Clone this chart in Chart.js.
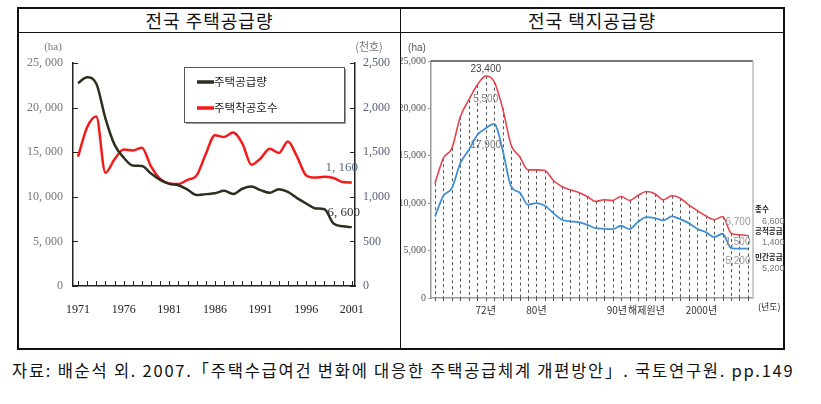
<!DOCTYPE html>
<html><head><meta charset="utf-8">
<script src="https://cdn.jsdelivr.net/npm/chart.js@4"></script>
<style>
html,body{margin:0;padding:0;background:#fff;width:821px;height:404px;overflow:hidden;}
.ln{position:absolute;background:#111;}
.title{position:absolute;top:8px;height:24px;line-height:24px;text-align:center;font-family:"Noto Sans CJK KR","Noto Sans",sans-serif;font-size:18px;color:#111;letter-spacing:1px;}
#cap{position:absolute;left:12px;top:358px;font-family:"Noto Sans CJK KR",sans-serif;font-size:16.5px;letter-spacing:1.75px;color:#111;white-space:nowrap;}
canvas{position:absolute;}
</style></head>
<body>
<div class="ln" style="left:17px;top:7px;width:768px;height:2px"></div>
<div class="ln" style="left:17px;top:32px;width:768px;height:1px"></div>
<div class="ln" style="left:17px;top:7px;width:2px;height:343px"></div>
<div class="ln" style="left:783px;top:7px;width:2px;height:343px"></div>
<div class="ln" style="left:400px;top:7px;width:1px;height:343px"></div>
<div class="ln" style="left:17px;top:348px;width:768px;height:2px"></div>
<div class="title" style="left:19px;width:381px">전국 주택공급량</div>
<div class="title" style="left:401px;width:382px">전국 택지공급량</div>
<canvas id="c1" width="382" height="315" style="left:18px;top:33px"></canvas>
<canvas id="c2" width="400" height="315" style="left:401px;top:33px"></canvas>
<div id="cap">자료: 배순석 외. 2007.「주택수급여건 변화에 대응한 주택공급체계 개편방안」. 국토연구원. pp.149</div>
<script>
// ---------- Left chart data ----------
const years = [1971,1972,1973,1974,1975,1976,1977,1978,1979,1980,1981,1982,1983,1984,1985,1986,1987,1988,1989,1990,1991,1992,1993,1994,1995,1996,1997,1998,1999,2000,2001];
const supplyHa = [22750,23400,22700,18800,15850,14400,13500,13450,12600,11900,11450,11300,10800,10200,10300,10400,10680,10310,10900,11150,10750,10450,10850,10550,9850,9250,8700,8600,7000,6700,6600];
const startsK = [1450,1780,1900,1270,1420,1530,1520,1550,1340,1200,1150,1143,1190,1240,1480,1690,1670,1720,1600,1360,1430,1540,1490,1620,1450,1240,1215,1225,1210,1165,1160];
const labelYears = [1971,1976,1981,1986,1991,1996,2001];
const leftSeriesNames = ['주택공급량','주택착공호수'];
const leftUnitL = '(ha)', leftUnitR = '(천호)';
const leftEndLabels = ['6, 600','1, 160'];

// ---------- Right chart data ----------
const landIdx = Array.from({length:38},(_,i)=>i);
const totalHa = [12110,14750,15800,19130,20890,22470,23400,22820,20010,16150,14920,13520,13520,13450,12390,11760,11410,11130,10710,10180,10360,10290,10710,10290,10810,11240,10990,10360,10780,10530,9830,9230,8670,8250,8600,6850,6670,6600];
const privateHa = [8600,10780,11590,14220,15620,17200,17900,18360,15620,11760,11130,9830,10010,9730,8950,8250,8080,8010,7720,7370,7300,7270,7620,7270,8010,8530,8430,8180,8600,8320,7900,7300,6950,6430,6780,5270,5200,5200];
const rightTickPos = [6,12,21.5,25,31.5];
const rightTickLabels = ['72년','80년','90년','해제원년','2000년'];
const peakLabels = ['23,400','5,500','17,900'];
const endLabels = ['6,700','1,500','5,200'];
const sideLabels = ['총수','6,600','공적공급','1,400','민간공급','5,200'];

// ---------- Left chart ----------
const leftPlugin = {
  id:'leftDeco',
  afterDraw(chart){
    const {ctx, chartArea:a, scales} = chart;
    ctx.save();
    ctx.strokeStyle='#222'; ctx.lineWidth=1;
    scales.x.ticks.forEach(t=>{const px=Math.round(scales.x.getPixelForValue(t.value))+0.5;
      ctx.beginPath();ctx.moveTo(px,a.bottom);ctx.lineTo(px,a.bottom-5);ctx.stroke();});
    scales.yL.ticks.forEach(t=>{const py=Math.round(scales.yL.getPixelForValue(t.value))+0.5;
      ctx.beginPath();ctx.moveTo(a.left,py);ctx.lineTo(a.left+5,py);ctx.stroke();});
    scales.yR.ticks.forEach(t=>{const py=Math.round(scales.yR.getPixelForValue(t.value))+0.5;
      ctx.beginPath();ctx.moveTo(a.right,py);ctx.lineTo(a.right-5,py);ctx.stroke();});
    ctx.font='11px "Liberation Serif"'; ctx.fillStyle='#777'; ctx.textAlign='center'; ctx.textBaseline='middle';
    ctx.fillText(leftUnitL, a.left-20, a.top-16);
    ctx.font='11px "Noto Sans CJK KR"';
    ctx.fillText(leftUnitR, a.right+14, a.top-16);
    const bx=a.left+111, by=a.top+4, bw=160, bh=55;
    ctx.fillStyle='#9a9a9a'; ctx.fillRect(bx+2,by+2,bw,bh);
    ctx.fillStyle='#fff'; ctx.fillRect(bx,by,bw,bh);
    ctx.strokeStyle='#555'; ctx.lineWidth=1; ctx.strokeRect(bx+0.5,by+0.5,bw,bh);
    chart.data.datasets.forEach((ds,i)=>{
      const ly = by + 15 + i*26;
      ctx.strokeStyle=ds.borderColor; ctx.lineWidth=3.5;
      ctx.beginPath();ctx.moveTo(bx+13,ly);ctx.lineTo(bx+30,ly);ctx.stroke();
      ctx.fillStyle='#222'; ctx.font='11.5px "Noto Sans CJK KR"'; ctx.textAlign='left'; ctx.textBaseline='middle';
      ctx.fillText(ds.label,bx+30,ly);
    });
    ctx.font='13px "Liberation Serif"'; ctx.textAlign='center'; ctx.textBaseline='middle';
    const mB = chart.getDatasetMeta(0).data, mR = chart.getDatasetMeta(1).data;
    const pB = mB[mB.length-1], pR = mR[mR.length-1];
    ctx.fillStyle='#333'; ctx.fillText(leftEndLabels[0], pB.x-8, pB.y-15);
    ctx.fillStyle='#5a6a84'; ctx.fillText(leftEndLabels[1], pR.x-10, pR.y-15);
    ctx.restore();
  }
};
new Chart(document.getElementById('c1'),{
  type:'line',
  data:{datasets:[
    {label:leftSeriesNames[0],data:years.map((y,i)=>({x:y,y:supplyHa[i]})),yAxisID:'yL',borderColor:'#2c2f20',borderWidth:2.5,pointRadius:0,cubicInterpolationMode:'monotone'},
    {label:leftSeriesNames[1],data:years.map((y,i)=>({x:y,y:startsK[i]})),yAxisID:'yR',borderColor:'#f51a1a',borderWidth:2.5,pointRadius:0,cubicInterpolationMode:'monotone'}
  ]},
  options:{
    responsive:false,animation:false,devicePixelRatio:1,
    layout:{padding:{top:30}},
    plugins:{legend:{display:false},tooltip:{enabled:false}},
    scales:{
      x:{type:'linear',min:1970.45,max:2001.35,
        afterBuildTicks:s=>{s.ticks=years.map(v=>({value:v}));},
        ticks:{autoSkip:false,maxRotation:0,padding:17,color:'#222',font:{family:'Liberation Serif',size:12},
          callback:v=>labelYears.includes(v)?String(v):''},
        grid:{display:false,drawTicks:false},border:{display:true,color:'#222',width:1.5},
        afterFit:s=>{s.height=62;}},
      yL:{position:'left',min:0,max:25000,
        ticks:{stepSize:5000,padding:10,color:'#777',font:{family:'Liberation Serif',size:12},
          callback:v=>v.toLocaleString('en-US').replace(',',', ')},
        grid:{display:false,drawTicks:false},border:{display:true,color:'#222',width:1.5},
        afterFit:s=>{s.width=55;}},
      yR:{position:'right',min:0,max:2500,
        ticks:{stepSize:500,padding:8,color:'#5a6078',font:{family:'Liberation Serif',size:12},
          callback:v=>v.toLocaleString('en-US')},
        grid:{display:false,drawTicks:false},border:{display:true,color:'#222',width:1.5},
        afterFit:s=>{s.width=45;}}
    }
  },
  plugins:[leftPlugin]
});

// ---------- Right chart ----------
const rightPlugin = {
  id:'rightDeco',
  beforeDatasetsDraw(chart){
    const {ctx, chartArea:a} = chart;
    const pts = chart.getDatasetMeta(0).data;
    ctx.save();
    ctx.strokeStyle='#555'; ctx.lineWidth=1;
    pts.forEach(p=>{const px=Math.round(p.x)+0.5;
      ctx.setLineDash([3,3]); ctx.beginPath(); ctx.moveTo(px,p.y); ctx.lineTo(px,a.bottom); ctx.stroke();
      ctx.setLineDash([]); ctx.beginPath(); ctx.moveTo(px,a.bottom); ctx.lineTo(px,a.bottom+3); ctx.stroke();});
    ctx.restore();
  },
  afterDraw(chart){
    const {ctx, chartArea:a} = chart;
    ctx.save();
    ctx.strokeStyle='#777'; ctx.lineWidth=2;
    ctx.beginPath(); ctx.moveTo(a.left,a.top); ctx.lineTo(a.right,a.top); ctx.stroke();
    ctx.strokeStyle='#bbb'; ctx.lineWidth=1.5;
    ctx.beginPath(); ctx.moveTo(a.right,a.top); ctx.lineTo(a.right,a.bottom); ctx.stroke();
    ctx.font='10px "Liberation Sans Narrow","Liberation Sans"'; ctx.textAlign='center'; ctx.textBaseline='middle';
    const t = chart.getDatasetMeta(0).data, p = chart.getDatasetMeta(1).data;
    const tp = t[6], pp = p[6];
    ctx.fillStyle='#444'; ctx.fillText(peakLabels[0], tp.x, tp.y-7);
    ctx.fillStyle='#888'; ctx.fillText(peakLabels[1], tp.x, tp.y+23);
    ctx.fillStyle='#777'; ctx.fillText(peakLabels[2], pp.x, pp.y+17);
    const te = t[t.length-1], pe = p[p.length-1];
    ctx.fillStyle='#999';
    ctx.fillText(endLabels[0], te.x-10, te.y-13);
    ctx.fillText(endLabels[1], te.x-10, te.y+7);
    ctx.fillText(endLabels[2], pe.x-10, pe.y+13);
    ctx.textAlign='left';
    const offs=[-26,-14,-4,7,22,33];
    sideLabels.forEach((s,i)=>{
      const isName = i%2===0;
      ctx.fillStyle = isName ? '#222' : '#777';
      ctx.font = isName ? 'bold 7.5px "Noto Sans CJK KR"' : '9px "Liberation Sans Narrow","Liberation Sans"';
      ctx.fillText(s, a.right+(isName?2:9), te.y+offs[i]);
    });
    ctx.fillStyle='#222'; ctx.font='9px "Noto Sans CJK KR"';
    ctx.fillText('(년도)', a.right+5, a.bottom+9);
    ctx.fillStyle='#555'; ctx.font='10px "Liberation Sans"'; ctx.textAlign='center';
    ctx.fillText('(ha)', a.left-14, a.top-13);
    ctx.restore();
  }
};
new Chart(document.getElementById('c2'),{
  type:'line',
  data:{datasets:[
    {label:'총수',data:landIdx.map(i=>({x:i,y:totalHa[i]})),borderColor:'#e4464e',borderWidth:1.6,pointRadius:0,cubicInterpolationMode:'monotone'},
    {label:'민간공급',data:landIdx.map(i=>({x:i,y:privateHa[i]})),borderColor:'#3f8fd2',borderWidth:1.8,pointRadius:0,cubicInterpolationMode:'monotone'}
  ]},
  options:{
    responsive:false,animation:false,devicePixelRatio:1,
    layout:{padding:{top:28,right:48}},
    plugins:{legend:{display:false},tooltip:{enabled:false}},
    scales:{
      x:{type:'linear',min:-0.47,max:37.6,
        afterBuildTicks:s=>{s.ticks=rightTickPos.map(v=>({value:v}));},
        ticks:{autoSkip:false,maxRotation:0,padding:6,color:'#333',font:{family:'Noto Sans CJK KR',size:10},
          callback:(v,i)=>rightTickLabels[i]},
        grid:{display:false,drawTicks:false},border:{display:true,color:'#999',width:1.5},
        afterFit:s=>{s.height=50;}},
      y:{min:0,max:25000,
        ticks:{stepSize:5000,padding:2,color:'#555',font:{family:'Liberation Sans Narrow',size:10},
          callback:v=>v.toLocaleString('en-US')},
        grid:{drawOnChartArea:false,drawTicks:true,tickLength:3,color:'#999'},border:{display:true,color:'#999',width:1.5},
        afterFit:s=>{s.width=30;}}
    }
  },
  plugins:[rightPlugin]
});
</script>
</body></html>
